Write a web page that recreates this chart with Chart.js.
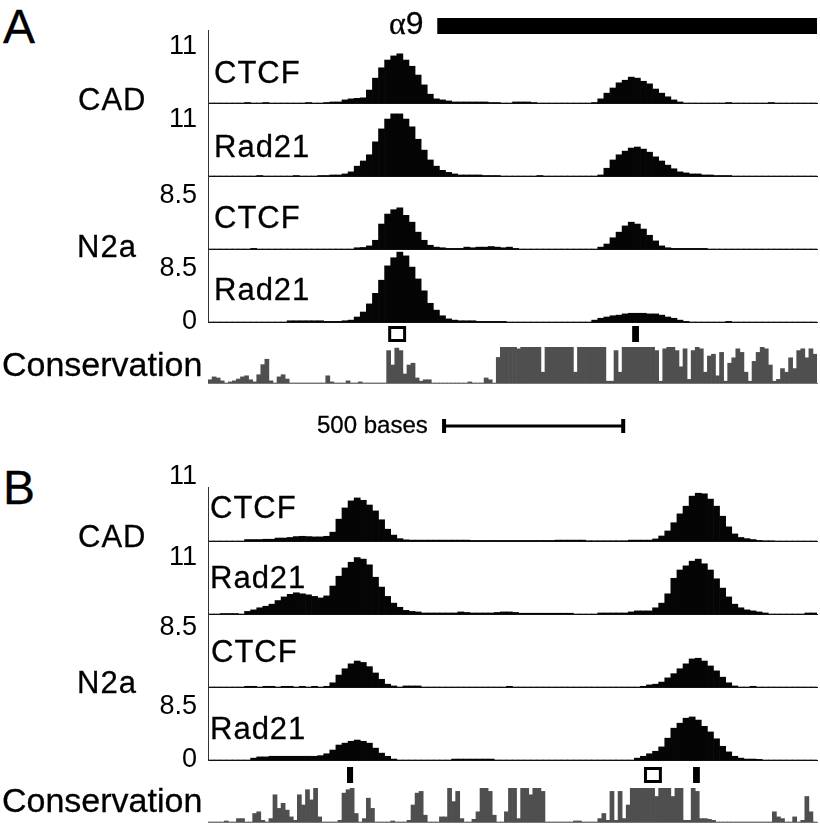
<!DOCTYPE html>
<html>
<head>
<meta charset="utf-8">
<script src="https://cdn.jsdelivr.net/npm/chart.js@4.4.1/dist/chart.umd.min.js"></script>
<style>
    body { margin: 0; background: #fff; }
    #figure {
        position: relative; width: 820px; height: 825px; overflow: hidden;
        font-family: 'Liberation Sans', Arial, sans-serif; color: #000;
    }
    #figure canvas { position: absolute; left: 140px; }
    .lbl { position: absolute; white-space: nowrap; line-height: 1; -webkit-text-stroke: 0.3px #000; }
</style>
</head>
<body>
<div id="figure"></div>
<script>
'use strict';

// Window of 1700 bases, signal in 17-base bins, conservation in 150 bins
const BASES = 1700;
const SIGNAL_BIN = 17;
const CONS_BIN = BASES / 150;

// Panel A signal (bins 0..99)
const cadCtcfA = [
    0, 0, 0, 0, 0, 0, 0.1, 0, 0, 0.1,
    0, 0, 0, 0, 0, 0, 0.1, 0, 0, 0.1,
    0.2, 0.2, 0.6, 0.8, 0.9, 1.0, 2.5, 4.8, 6.8, 8.3,
    9.1, 9.5, 8.3, 7.1, 5.4, 3.5, 1.7, 0.8, 0.6, 0.4,
    0.2, 0.2, 0.2, 0.2, 0.2, 0.2, 0.1, 0.1, 0, 0,
    0.2, 0.2, 0.2, 0.1, 0, 0, 0, 0, 0, 0,
    0, 0, 0, 0.1, 0.8, 1.9, 2.9, 3.9, 4.4, 5.0,
    4.8, 4.2, 3.7, 2.7, 1.9, 1.2, 0.6, 0.2, 0, 0,
    0, 0, 0, 0, 0, 0.1, 0, 0, 0, 0,
    0, 0, 0.1, 0, 0, 0, 0, 0, 0, 0,
];
const cadRad21A = [
    0, 0, 0, 0, 0, 0, 0, 0, 0.1, 0,
    0, 0, 0, 0, 0.1, 0, 0, 0, 0.1, 0.1,
    0.2, 0.2, 0.4, 0.8, 1.9, 2.9, 4.1, 6.6, 9.1, 11.0,
    12.0, 12.0, 11.0, 9.5, 7.1, 5.0, 3.1, 1.9, 1.1, 0.7,
    0.4, 0.2, 0.2, 0.2, 0.2, 0.1, 0.1, 0.1, 0, 0,
    0, 0, 0, 0, 0.1, 0, 0, 0, 0, 0,
    0, 0, 0, 0, 0.2, 1.5, 3.1, 4.1, 4.8, 5.4,
    5.6, 5.2, 4.6, 3.7, 2.9, 2.1, 1.4, 0.8, 0.6, 0.4,
    0.4, 0.2, 0.2, 0.1, 0.1, 0.1, 0, 0, 0, 0,
    0, 0, 0, 0, 0, 0, 0, 0, 0, 0,
];
const n2aCtcfA = [
    0, 0, 0, 0, 0, 0, 0, 0.1, 0, 0,
    0, 0, 0, 0, 0, 0, 0, 0, 0, 0,
    0, 0, 0, 0, 0.2, 0.25, 0.5, 1.4, 4.0, 5.6,
    6.3, 6.6, 5.4, 4.3, 2.7, 1.4, 0.6, 0.3, 0.2, 0.1,
    0.1, 0.1, 0.3, 0.2, 0.3, 0.3, 0.4, 0.3, 0.2, 0.3,
    0.1, 0, 0, 0, 0, 0, 0, 0, 0, 0,
    0, 0, 0, 0, 0.3, 0.8, 1.8, 2.7, 3.7, 4.3,
    4.0, 3.2, 2.2, 1.3, 0.5, 0.2, 0.1, 0.1, 0.1, 0.1,
    0.1, 0.1, 0, 0, 0, 0, 0, 0, 0, 0,
    0, 0, 0, 0, 0, 0, 0, 0, 0, 0,
];
const n2aRad21A = [
    0, 0, 0, 0, 0, 0, 0, 0, 0, 0,
    0, 0, 0, 0.2, 0.2, 0.2, 0.2, 0.2, 0.2, 0.1,
    0.1, 0.1, 0.2, 0.3, 0.8, 1.6, 2.9, 4.6, 6.7, 9.0,
    10.3, 11.2, 10.6, 8.8, 6.9, 5.0, 3.0, 1.9, 1.0, 0.5,
    0.3, 0.2, 0.2, 0.2, 0.1, 0.1, 0.1, 0.1, 0.1, 0,
    0, 0, 0, 0, 0, 0, 0, 0, 0, 0,
    0, 0, 0, 0.3, 0.6, 0.8, 1.0, 1.1, 1.3, 1.4,
    1.4, 1.4, 1.3, 1.3, 1.1, 0.8, 0.6, 0.3, 0.1, 0,
    0, 0, 0, 0, 0, 0.1, 0, 0, 0, 0,
    0, 0, 0, 0, 0, 0, 0, 0, 0, 0,
];

// Panel B signal (bins 0..99)
const cadCtcfB = [
    0, 0, 0, 0, 0, 0, 0.25, 0.25, 0.25, 0.3,
    0.3, 0.5, 0.5, 0.6, 0.75, 0.8, 0.75, 0.7, 0.7, 0.8,
    1.5, 3.7, 5.6, 6.8, 7.3, 6.9, 6.1, 5.1, 3.6, 2.0,
    1.0, 0.4, 0.2, 0.15, 0.15, 0.15, 0.15, 0.15, 0.15, 0.15,
    0.15, 0.15, 0.15, 0.1, 0.1, 0.1, 0.1, 0.1, 0.1, 0.1,
    0.1, 0.1, 0.1, 0.1, 0.1, 0.1, 0.1, 0.15, 0.15, 0.15,
    0.15, 0.15, 0.05, 0.05, 0.05, 0.05, 0.05, 0.05, 0.05, 0.15,
    0.15, 0.15, 0.15, 0.35, 0.85, 1.7, 3.1, 4.6, 5.9, 7.6,
    8.1, 8.0, 7.1, 5.9, 4.2, 2.4, 1.2, 0.6, 0.4, 0.25,
    0.1, 0.05, 0.05, 0, 0, 0, 0, 0, 0, 0,
];
const cadRad21B = [
    0, 0, 0.1, 0.1, 0.1, 0, 0.5, 0.8, 1.2, 1.5,
    1.9, 2.6, 3.3, 3.8, 4.1, 3.9, 3.7, 3.4, 3.1, 3.5,
    5.4, 7.3, 8.9, 10.0, 10.9, 10.6, 9.5, 7.1, 5.2, 3.4,
    2.1, 1.3, 0.7, 0.5, 0.4, 0.2, 0.2, 0.2, 0.2, 0.2,
    0.2, 0.4, 0.3, 0.2, 0.2, 0.2, 0.2, 0.3, 0.4, 0.4,
    0.3, 0.15, 0.15, 0.15, 0.15, 0.15, 0.15, 0.15, 0.15, 0.15,
    0, 0, 0, 0, 0.2, 0.2, 0.2, 0.2, 0.2, 0.4,
    0.6, 0.6, 0.6, 1.2, 2.1, 3.9, 6.9, 8.5, 9.3, 10.2,
    10.6, 9.7, 8.5, 6.8, 5.0, 3.3, 1.9, 1.2, 0.8, 0.6,
    0.4, 0.2, 0, 0, 0, 0, 0, 0, 0.2, 0.2,
];
const n2aCtcfB = [
    0, 0, 0, 0, 0, 0, 0.1, 0.1, 0, 0.1,
    0.1, 0, 0.1, 0.1, 0, 0.1, 0, 0.1, 0, 0.1,
    0.6, 1.7, 2.6, 3.3, 3.7, 3.5, 2.9, 2.0, 1.1, 0.4,
    0.15, 0, 0.15, 0.15, 0.15, 0, 0, 0, 0, 0,
    0, 0, 0, 0, 0, 0, 0, 0, 0, 0.1,
    0, 0, 0, 0, 0, 0, 0, 0, 0, 0,
    0, 0, 0, 0, 0, 0, 0, 0, 0, 0,
    0, 0.1, 0.3, 0.4, 0.7, 1.3, 1.9, 2.6, 3.3, 4.0,
    4.1, 3.7, 3.0, 2.3, 1.4, 0.6, 0.15, 0, 0, 0.1,
    0, 0, 0, 0, 0, 0, 0, 0, 0, 0,
];
const n2aRad21B = [
    0, 0, 0, 0, 0, 0, 0, 0.3, 0.5, 0.5,
    0.6, 0.6, 0.6, 0.6, 0.6, 0.6, 0.6, 0.6, 0.7, 1.0,
    1.6, 2.4, 2.7, 3.0, 3.2, 3.0, 2.7, 1.9, 1.1, 0.6,
    0.15, 0, 0, 0, 0, 0, 0, 0, 0, 0,
    0.15, 0.15, 0.15, 0.15, 0.15, 0.15, 0.15, 0, 0, 0,
    0, 0, 0, 0, 0, 0, 0, 0, 0, 0,
    0, 0, 0, 0, 0, 0, 0, 0, 0, 0,
    0.3, 0.6, 1.0, 1.4, 2.1, 3.5, 5.1, 5.9, 6.7, 6.9,
    6.4, 5.4, 4.5, 3.4, 2.2, 1.3, 0.6, 0.3, 0.15, 0.15,
    0.1, 0, 0, 0, 0, 0, 0, 0, 0, 0,
];

// Conservation scores (0..1), bins 0..149
const consA = [
    0.09, 0.17, 0.14, 0.06, 0, 0.03, 0.06, 0.11, 0.17, 0.2,
    0.09, 0.03, 0.23, 0.51, 0.66, 0.06, 0, 0.17, 0.23, 0.11,
    0, 0, 0, 0, 0, 0, 0, 0, 0, 0.2,
    0.03, 0, 0, 0, 0.06, 0, 0, 0.03, 0, 0,
    0, 0, 0, 0, 0.9, 0.5, 0.97, 0.9, 0.25, 0.5,
    0.55, 0.14, 0.05, 0.09, 0.09, 0, 0, 0, 0, 0,
    0, 0, 0, 0, 0.03, 0, 0, 0, 0.14, 0.09,
    0, 0.71, 1, 1, 1, 1, 0.95, 1, 1, 1,
    1, 1, 0.3, 1, 1, 1, 1, 1, 1, 1,
    0.3, 1, 1, 1, 1, 1, 1, 1, 0.05, 0.05,
    0.9, 0.3, 1, 1, 1, 1, 1, 1, 1, 1,
    0.9, 0.05, 0.95, 1, 1, 0.9, 0.45, 0.95, 0.1, 0.9,
    1, 0.95, 0.3, 0.75, 0.8, 0.2, 0.85, 0.05, 0.55, 0.7,
    0.95, 0.85, 0.3, 0.05, 0.6, 0.85, 1, 0.95, 0.5, 0.05,
    0.1, 0.4, 0.3, 0.7, 0.4, 0.9, 0.95, 0.7, 0.95, 0.8,
];
const consB = [
    0, 0, 0, 0, 0.03, 0, 0, 0.1, 0.1, 0,
    0, 0.25, 0.3, 0.05, 0, 0.1, 0.8, 0.4, 0.55, 0.35,
    0.15, 0.05, 0.8, 0.5, 0.95, 0.65, 1.0, 0.15, 0, 0,
    0, 0, 0.05, 0.85, 0.95, 1.0, 0.25, 0, 0.1, 0.7,
    0.4, 0, 0, 0, 0, 0.03, 0, 0, 0, 0.05,
    0.5, 0.85, 0.9, 0.2, 0, 0, 0, 0.15, 0.15, 1.0,
    0.6, 0.9, 0.1, 0, 0, 0.08, 0.3, 1.0, 1.0, 0.9,
    0.2, 0, 0, 0.3, 1.0, 1.0, 0.1, 1.0, 1.0, 0.8,
    1.0, 1.0, 0.9, 0, 0, 0, 0, 0, 0, 0,
    0.03, 0.03, 0, 0, 0, 0, 0.1, 0.25, 0.05, 0.9,
    0.05, 0.9, 0.1, 0.5, 1.0, 1.0, 1.0, 1.0, 1.0, 1.0,
    0.75, 1.0, 1.0, 1.0, 0.75, 1.0, 1.0, 0.05, 0.05, 1.0,
    0.9, 0.1, 0.1, 0.08, 0.05, 0, 0, 0, 0, 0,
    0, 0, 0, 0, 0, 0, 0, 0, 0, 0.3,
    0.15, 0.1, 0, 0, 0.15, 0, 0.05, 0.75, 0.3, 0,
];

// Annotations, in bases
const geneStart = 640;
const geneEnd = 1700;
const scaleStart = 659;
const scaleLength = 500;
const sitesA = { starts: [503, 1184], ends: [553, 1203], kinds: ['open', 'filled'] };
const sitesB = { starts: [388, 1217, 1354], ends: [405, 1267, 1373], kinds: ['filled', 'open', 'filled'] };

const FONT = "'Liberation Sans', Arial, sans-serif";
const PAD_TOP = 30;
const AXIS_W = 68;
const figure = document.getElementById('figure');

const toPoints = function (values, bin) {
    return values.map((v, i) => ({ x: (i + 0.5) * bin, y: v }));
};

// Draws gene bar, site boxes and scale bar from the track's x scale
const extrasPlugin = function (extras) {
    return {
        id: 'trackExtras',
        afterDatasetsDraw(chart) {
            const ctx = chart.ctx;
            const xs = chart.scales.x;
            const area = chart.chartArea;
            ctx.save();
            ctx.fillStyle = '#000';
            ctx.strokeStyle = '#000';
            if (extras.gene) {
                const x0 = xs.getPixelForValue(extras.gene.start);
                const x1 = xs.getPixelForValue(extras.gene.end);
                ctx.fillRect(x0, area.top - 12, x1 - x0, 16);
            }
            if (extras.sites) {
                const top = area.top - 21;
                extras.sites.starts.forEach((s, i) => {
                    const x0 = xs.getPixelForValue(s);
                    const x1 = xs.getPixelForValue(extras.sites.ends[i]);
                    if (extras.sites.kinds[i] === 'open') {
                        ctx.lineWidth = 3;
                        ctx.strokeRect(x0 + 1.5, top + 1.5, x1 - x0 - 3, 13);
                    } else {
                        ctx.fillRect(x0, top, x1 - x0, 16);
                    }
                });
            }
            if (extras.scaleBar) {
                const x0 = xs.getPixelForValue(extras.scaleBar.start);
                const x1 = xs.getPixelForValue(extras.scaleBar.start + extras.scaleBar.length);
                const y = area.bottom + 43;
                ctx.fillRect(x0, y - 1.5, x1 - x0, 3);
                ctx.fillRect(x0 - 2, y - 7, 4, 14);
                ctx.fillRect(x1 - 2, y - 7, 4, 14);
            }
            ctx.restore();
        },
    };
};

const makeTrack = function (cfg) {
    const canvas = document.createElement('canvas');
    canvas.width = 680;
    canvas.height = PAD_TOP + (cfg.bottom - cfg.top) + cfg.padBottom;
    canvas.style.top = cfg.top - PAD_TOP + 'px';
    figure.appendChild(canvas);

    const hasTicks = Array.isArray(cfg.ticks);
    new Chart(canvas, {
        type: 'bar',
        data: {
            datasets: [
                {
                    data: toPoints(cfg.values, cfg.bin),
                    backgroundColor: cfg.color,
                    borderWidth: 0,
                    barPercentage: 1,
                    categoryPercentage: 1,
                },
            ],
        },
        options: {
            responsive: false,
            animation: false,
            events: [],
            layout: { padding: { top: PAD_TOP, bottom: cfg.padBottom, left: 0, right: 3 } },
            plugins: { legend: { display: false }, tooltip: { enabled: false } },
            scales: {
                x: {
                    type: 'linear',
                    min: 0,
                    max: BASES,
                    offset: false,
                    ticks: { display: false },
                    grid: { display: false, drawTicks: false },
                    border: { display: true, color: cfg.baseColor, width: 1 },
                },
                y: {
                    min: 0,
                    max: cfg.yMax,
                    afterBuildTicks: (scale) => {
                        scale.ticks = (cfg.ticks || []).map((v) => ({ value: v }));
                    },
                    afterFit: (scale) => {
                        scale.width = AXIS_W;
                    },
                    grid: { display: false, drawTicks: false },
                    border: { display: hasTicks, color: '#333', width: 1 },
                    ticks: hasTicks
                        ? {
                              padding: 11,
                              color: '#000',
                              font: { family: FONT, size: 27 },
                              callback: (value) => String(value),
                          }
                        : { display: false },
                },
            },
        },
        plugins: cfg.extras ? [extrasPlugin(cfg.extras)] : [],
    });
};

const signal = function (values, top, bottom, yMax, ticks, extras) {
    return { values, top, bottom, yMax, ticks, extras, bin: SIGNAL_BIN, padBottom: 30, color: '#050505', baseColor: '#111' };
};
const conservation = function (values, top, bottom, padBottom, extras) {
    return { values, top, bottom, padBottom, extras, yMax: 1, bin: CONS_BIN, color: '#4f4f4f', baseColor: '#777' };
};

[
    signal(cadCtcfA, 30, 103, 14.1, [11], { gene: { start: geneStart, end: geneEnd } }),
    signal(cadRad21A, 103, 176, 14.1, [11]),
    signal(n2aCtcfA, 176, 249, 11.7, [8.5]),
    signal(n2aRad21A, 249, 322, 11.7, [8.5, 0]),
    conservation(consA, 347, 383, 55, { sites: sitesA, scaleBar: { start: scaleStart, length: scaleLength } }),
    signal(cadCtcfB, 487, 541, 9.15, [11]),
    signal(cadRad21B, 541, 614, 14.1, [11]),
    signal(n2aCtcfB, 614, 687, 10.4, [8.5]),
    signal(n2aRad21B, 687, 760, 11.7, [8.5, 0]),
    conservation(consB, 788, 822, 3, { sites: sitesB }),
].forEach(makeTrack);

// Text labels: [text, left, centre y, size, letter spacing]
const labels = [
    ['A', 3, 27, 48, 0],
    ['B', 3, 488, 48, 0],
    ['CAD', 78, 99, 31, 1],
    ['N2a', 77, 246, 31, 1],
    ['CAD', 78, 536, 31, 1],
    ['N2a', 77, 682, 31, 1],
    ['CTCF', 214, 72, 31, 1],
    ['Rad21', 214, 146, 31, 1],
    ['CTCF', 214, 217, 31, 1],
    ['Rad21', 214, 289, 31, 1],
    ['CTCF', 210, 507, 31, 1],
    ['Rad21', 210, 577, 31, 1],
    ['CTCF', 211, 651, 31, 1],
    ['Rad21', 210, 728, 31, 1],
    ['Conservation', 2, 364, 34, 0],
    ['Conservation', 2, 800, 34, 0],
    ['500 bases', 317, 425, 24, 0],
];

labels.forEach(([text, left, cy, size, spacing]) => {
    const div = document.createElement('div');
    div.className = 'lbl';
    div.textContent = text;
    div.style.left = left + 'px';
    div.style.top = cy - size / 2 + 'px';
    div.style.fontSize = size + 'px';
    div.style.letterSpacing = spacing + 'px';
    figure.appendChild(div);
});

const gene = document.createElement('div');
gene.className = 'lbl';
gene.style.left = '389px';
gene.style.top = 23 - 16 + 'px';
gene.style.fontSize = '32px';
gene.innerHTML = '<span style="font-family:\'Liberation Serif\', serif">α</span>9';
figure.appendChild(gene);
</script>
</body>
</html>
